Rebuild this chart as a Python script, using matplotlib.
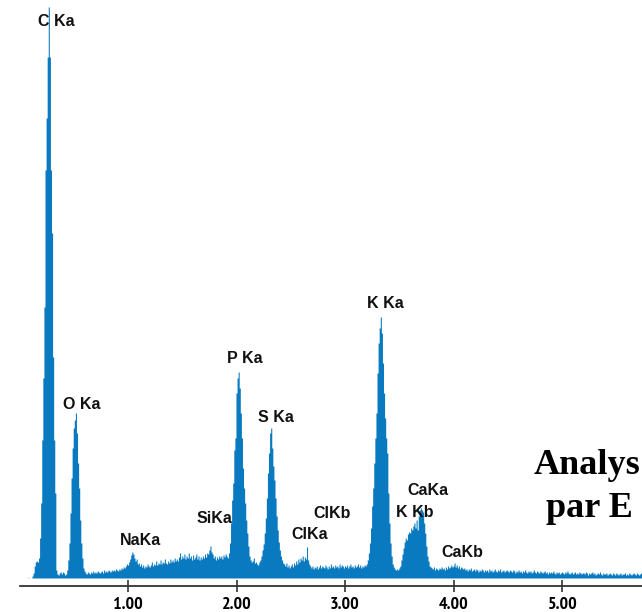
import numpy as np
import matplotlib
matplotlib.use("Agg")
import matplotlib.pyplot as plt
from matplotlib import font_manager as fm

# ---- data ----
e_start = 0.08          # keV, first channel
e_step = 0.01           # keV per channel
counts = [
    1, 0,
    0, 0, 2, 5, 12, 16, 17, 16, 20, 40,
    75, 138, 200, 271, 408, 460, 521, 571, 521, 408,
    345, 221, 138, 85, 8, 4, 3, 5, 6, 4,
    6, 5, 3, 4, 8, 18, 35, 65, 100, 130,
    150, 158, 165, 145, 115, 90, 58, 35, 20, 10,
    7, 5, 4, 6, 5, 4, 6, 5, 7, 5,
    6, 5, 7, 6, 5, 6, 7, 5, 8, 6,
    7, 6, 8, 7, 6, 8, 7, 8, 7, 9,
    8, 7, 9, 8, 10, 9, 11, 10, 12, 14,
    13, 16, 19, 23, 26, 24, 20, 17, 19, 14,
    15, 12, 14, 11, 13, 10, 12, 11, 14, 12,
    11, 13, 16, 12, 14, 13, 17, 13, 15, 14,
    18, 14, 16, 15, 19, 15, 14, 17, 15, 19,
    16, 18, 16, 20, 17, 19, 17, 21, 25, 19,
    22, 20, 24, 19, 22, 20, 25, 20, 22, 18,
    23, 19, 21, 24, 19, 22, 18, 21, 19, 22,
    20, 24, 21, 25, 24, 28, 32, 26, 24, 20,
    22, 18, 21, 19, 22, 20, 22, 19, 23, 21,
    24, 22, 20, 25, 35, 55, 78, 95, 128, 140,
    185, 200, 206, 190, 165, 140, 110, 90, 75, 58,
    45, 32, 22, 18, 16, 17, 20, 15, 16, 14,
    13, 16, 18, 22, 28, 34, 45, 60, 80, 105,
    125, 145, 150, 130, 112, 98, 80, 62, 48, 36,
    28, 22, 18, 15, 14, 12, 15, 11, 13, 10,
    12, 14, 11, 15, 13, 17, 14, 19, 16, 20,
    18, 22, 17, 21, 19, 31, 18, 14, 12, 10,
    12, 9, 11, 10, 12, 9, 11, 13, 10, 12,
    11, 10, 13, 11, 9, 12, 10, 14, 11, 12,
    10, 13, 11, 12, 10, 14, 11, 13, 12, 10,
    12, 11, 13, 10, 12, 14, 11, 12, 10, 13,
    11, 12, 14, 11, 13, 10, 12, 11, 13, 12,
    14, 18, 25, 35, 50, 72, 90, 115, 140, 165,
    205, 235, 250, 261, 245, 215, 185, 160, 140, 125,
    85, 55, 35, 22, 14, 11, 9, 8, 9, 8,
    10, 12, 18, 24, 30, 36, 40, 38, 44, 46,
    45, 50, 48, 52, 55, 50, 58, 48, 62, 68,
    70, 68, 66, 55, 45, 32, 22, 17, 12, 11,
    10, 9, 11, 8, 10, 9, 8, 10, 9, 11,
    9, 10, 8, 11, 9, 12, 10, 11, 13, 11,
    12, 15, 11, 13, 10, 12, 9, 11, 10, 9,
    10, 8, 9, 7, 9, 8, 10, 7, 8, 9,
    7, 9, 8, 6, 8, 7, 9, 8, 6, 8,
    7, 8, 6, 9, 7, 8, 6, 7, 9, 7,
    6, 8, 7, 9, 6, 7, 8, 6, 7, 8,
    7, 6, 8, 7, 6, 8, 7, 5, 7, 6,
    8, 6, 7, 5, 7, 6, 8, 6, 5, 7,
    6, 7, 5, 6, 8, 6, 5, 7, 6, 5,
    7, 6, 5, 6, 7, 5, 6, 4, 6, 5,
    6, 5, 7, 5, 4, 6, 5, 6, 4, 5,
    6, 5, 4, 6, 5, 7, 5, 4, 5, 6,
    4, 5, 6, 4, 5, 4, 6, 5, 4, 5,
    5, 4, 6, 5, 3, 5, 4, 5, 6, 4,
    5, 3, 4, 5, 4, 6, 4, 3, 5, 4,
    4, 5, 3, 4, 5, 4, 3, 5, 4, 3,
    5, 4, 3, 4, 5, 3, 4, 4, 5, 3,
    4, 3, 5, 4, 3, 4, 5, 4, 3, 5,
    4, 3, 4, 5, 3, 4,
]
tick_values = [1.0, 2.0, 3.0, 4.0, 5.0]
tick_labels = ["1.00", "2.00", "3.00", "4.00", "5.00"]
peak_names = ["C Ka", "O Ka", "NaKa", "SiKa", "P Ka", "S Ka", "ClKa",
              "ClKb", "K Ka", "CaKa", "K Kb", "CaKb"]
title_lines = ["Analys", "par E"]


def _is_bold(w):
    if isinstance(w, (int, float)):
        return w >= 600
    return str(w).lower() in ("bold", "heavy", "black", "demibold", "semibold")


def narrow_bold_font():
    """Find a condensed bold sans font if one is installed."""
    entries = fm.fontManager.ttflist
    for key in ("Narrow", "Condensed"):
        for f in entries:
            if key in f.name and _is_bold(f.weight) and "Mono" not in f.name \
                    and "Serif" not in f.name:
                return fm.FontProperties(fname=f.fname)
    for f in entries:
        if f.name == "DejaVu Sans" and "condensed" in str(f.stretch) \
                and _is_bold(f.weight):
            return fm.FontProperties(fname=f.fname)
    return None


# ---- figure ----
W, H, DPI = 642, 612, 100
fig = plt.figure(figsize=(W / DPI, H / DPI), dpi=DPI)
fig.patch.set_facecolor("white")
ax = fig.add_axes([0, 0, 1, 1])
ax.set_facecolor("white")

# pixel mapping: x_px = 19.5 + 108.5*E ; y data 0 at pixel row 578
x0_px, kev_px, base_px = 19.5, 108.5, 578.0
ax.set_xlim(-x0_px / kev_px, (W - x0_px) / kev_px)
ax.set_ylim(base_px - H, base_px)

energy = e_start + e_step * np.arange(len(counts))
cnt = np.asarray(counts, dtype=float)
ax.fill_between(energy, 0, cnt, step="mid", color="#0A7AC0", linewidth=0,
                antialiased=True, zorder=3)

# axis
for s in ["top", "left", "right"]:
    ax.spines[s].set_visible(False)
ax.spines["bottom"].set_position(("data", -8))
ax.spines["bottom"].set_bounds(0, (W - x0_px) / kev_px)
ax.spines["bottom"].set_linewidth(1.3)
ax.spines["bottom"].set_color("#333333")
ax.set_yticks([])
ax.set_xticks(tick_values)
ax.set_xticklabels(tick_labels)
ax.tick_params(axis="x", direction="inout", length=8, width=1.2,
               color="#333333", pad=3.6)
fp = narrow_bold_font()
for lab in ax.get_xticklabels():
    if fp is not None:
        lab.set_fontproperties(fp)
        lab.set_fontsize(13)
    else:
        lab.set_fontfamily(["Liberation Sans", "DejaVu Sans"])
        lab.set_fontweight("bold")
        lab.set_fontsize(12)
    lab.set_color("#000000")

# peak labels (positions in pixels of the reference)
label_px = [(56, 26.5), (82, 409), (140.3, 545), (214, 523.3), (244.5, 363.3),
            (276, 421.7), (309.5, 539.3), (332, 518.3), (385.5, 308.3),
            (428, 495), (415, 516.7), (462.5, 556.7)]
for name, (px, py) in zip(peak_names, label_px):
    ax.text((px - x0_px) / kev_px, base_px - py, name, ha="center",
            va="baseline", fontsize=11.5, fontweight="bold",
            family=["Liberation Sans", "DejaVu Sans"], color="#111111",
            zorder=4)

# big title text at the right edge
for line, (px, py) in zip(title_lines, [(534, 474), (546.5, 517)]):
    ax.text((px - x0_px) / kev_px, base_px - py, line,
            ha="left", va="baseline", fontsize=26, fontweight="bold",
            family=["Liberation Serif", "DejaVu Serif"], color="black",
            clip_on=True, zorder=5)

fig.savefig("out.png", dpi=DPI, facecolor="white")
